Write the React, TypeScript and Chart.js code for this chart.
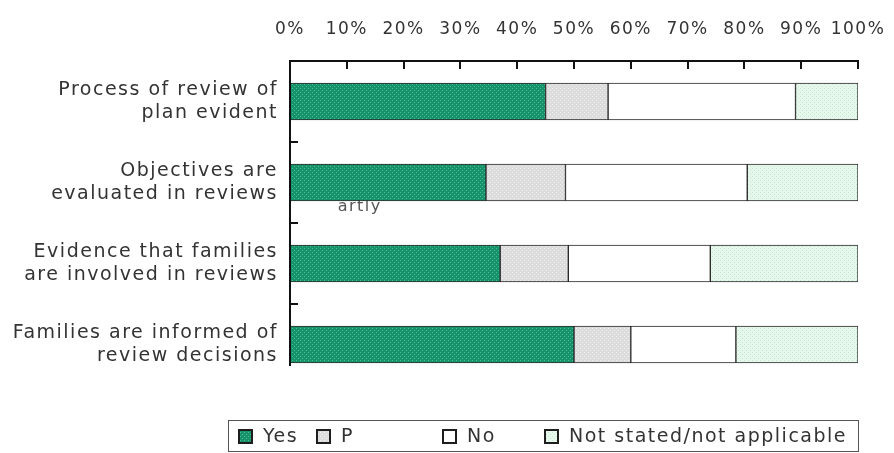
import React, { useEffect, useRef } from "react";
import { Chart, registerables } from "chart.js";

Chart.register(...registerables);

const categories: string[][] = [
  ["Process of review of", "plan evident"],
  ["Objectives are", "evaluated in reviews"],
  ["Evidence that families", "are involved in reviews"],
  ["Families are informed of", "review decisions"],
];
const seriesNames = ["Yes", "P", "No", "Not stated/not applicable"];
const yesValues = [45, 34.5, 37, 50];
const partlyValues = [11, 14, 12, 10];
const noValues = [33, 32, 25, 18.5];
const notStatedValues = [11, 19.5, 26, 21.5];
const xTickValues = [0, 10, 20, 30, 40, 50, 60, 70, 80, 90, 100];
const strayLabel = "artly";

const FONT = "'DejaVu Sans', sans-serif";
const TEXT_COLOR = "#333333";
const SPACING = "1.5px";
const BAR_THICKNESS = 37;
const LEGEND_GAPS = [18, 88, 48, 0];

function makePattern(base: string, dot: string | null): CanvasPattern | string {
  const c = document.createElement("canvas");
  c.width = 4;
  c.height = 4;
  const g = c.getContext("2d");
  if (!g) return base;
  g.fillStyle = base;
  g.fillRect(0, 0, 4, 4);
  if (dot) {
    g.fillStyle = dot;
    g.fillRect(0, 0, 1, 1);
    g.fillRect(2, 2, 1, 1);
  }
  return g.createPattern(c, "repeat") || base;
}

const decorPlugin = {
  id: "decor",
  beforeUpdate(chart: any) {
    chart.ctx.letterSpacing = SPACING;
  },
  beforeDraw(chart: any) {
    chart.ctx.letterSpacing = SPACING;
  },
  beforeDatasetsDraw(chart: any) {
    const { ctx, scales } = chart;
    const x = scales.x;
    const y = scales.y;
    ctx.save();
    ctx.font = `16px ${FONT}`;
    ctx.fillStyle = "#555";
    ctx.textAlign = "left";
    ctx.textBaseline = "alphabetic";
    ctx.fillText(strayLabel, x.getPixelForValue(8.4), y.getPixelForValue(1) + BAR_THICKNESS / 2 + 10);
    ctx.restore();
  },
  afterDatasetsDraw(chart: any) {
    const { ctx, chartArea } = chart;
    const x = chart.scales.x;
    const y = chart.scales.y;
    const top = Math.round(chartArea.top);
    const left = Math.round(chartArea.left);
    ctx.save();
    ctx.strokeStyle = "#111";
    ctx.lineWidth = 2;
    ctx.beginPath();
    ctx.moveTo(x.getPixelForValue(0) - 1, top);
    ctx.lineTo(x.getPixelForValue(100) + 1, top);
    for (const v of xTickValues) {
      const px = Math.round(x.getPixelForValue(v));
      ctx.moveTo(px, top);
      ctx.lineTo(px, top + 8);
    }
    const lastBottom = y.getPixelForValue(categories.length - 1) + BAR_THICKNESS / 2 + 3;
    ctx.moveTo(left, top);
    ctx.lineTo(left, lastBottom);
    for (let i = 0; i < categories.length - 1; i++) {
      const py = Math.round((y.getPixelForValue(i) + y.getPixelForValue(i + 1)) / 2);
      ctx.moveTo(left, py);
      ctx.lineTo(left + 8, py);
    }
    ctx.stroke();
    ctx.restore();
  },
  afterDraw(chart: any) {
    // legend built from the chart's own datasets
    const ctx = chart.ctx;
    const ca = chart.chartArea;
    const ds = chart.data.datasets;
    ctx.save();
    ctx.font = `19px ${FONT}`;
    ctx.letterSpacing = SPACING;
    ctx.textAlign = "left";
    ctx.textBaseline = "middle";
    const frameLeft = Math.round(ca.left) - 62;
    const frameTop = Math.round(ca.bottom) + 35;
    const frameH = 31;
    const cy = frameTop + 16;
    let xPos = frameLeft + 10;
    ds.forEach((d: any, i: number) => {
      const bx = Math.round(xPos);
      const by = Math.round(cy - 7.5);
      ctx.fillStyle = d.backgroundColor;
      ctx.fillRect(bx, by, 15, 15);
      ctx.lineWidth = 2;
      ctx.strokeStyle = "#1e1e1e";
      ctx.strokeRect(bx + 1, by + 1, 13, 13);
      ctx.fillStyle = TEXT_COLOR;
      ctx.fillText(d.label, bx + 25, cy + 1);
      xPos = bx + 25 + ctx.measureText(d.label).width + LEGEND_GAPS[i];
    });
    const frameRight = Math.max(Math.round(ca.right), Math.round(xPos + 10));
    ctx.lineWidth = 1;
    ctx.strokeStyle = "#555";
    ctx.strokeRect(frameLeft + 0.5, frameTop + 0.5, frameRight - frameLeft, frameH);
    ctx.restore();
  },
};

export default function App() {
  const ref = useRef<HTMLCanvasElement>(null);

  useEffect(() => {
    const canvas = ref.current;
    if (!canvas) return;

    const fills = [
      makePattern("#17936c", "#4dbb93"),
      makePattern("#dcdcdc", "#efefef"),
      "#ffffff",
      makePattern("#e6f7eb", "#c6e6d1"),
    ];
    const values = [yesValues, partlyValues, noValues, notStatedValues];

    const chart = new Chart(canvas, {
      type: "bar",
      data: {
        labels: categories,
        datasets: seriesNames.map((name, i) => ({
          label: name,
          data: values[i],
          backgroundColor: fills[i] as any,
          borderColor: "#2a2a2a",
          borderWidth: 1,
          borderSkipped: false,
          barThickness: BAR_THICKNESS,
        })),
      },
      options: {
        indexAxis: "y",
        responsive: false,
        animation: false,
        layout: { padding: { left: 0, top: 0, right: 5, bottom: 68 } },
        scales: {
          x: {
            type: "linear",
            position: "top",
            stacked: true,
            min: 0,
            max: 100,
            afterBuildTicks: (s: any) => {
              s.ticks = xTickValues.map((v) => ({ value: v }));
            },
            ticks: {
              callback: (v: any) => v + "%",
              font: { family: FONT, size: 17, lineHeight: 2.7 },
              color: TEXT_COLOR,
              padding: 8,
              maxRotation: 0,
              autoSkip: false,
            },
            grid: { display: false, drawTicks: false },
            border: { display: false },
            afterFit: (s: any) => {
              s.height = 61;
            },
          },
          y: {
            stacked: true,
            ticks: {
              font: { family: FONT, size: 19 },
              color: TEXT_COLOR,
              padding: 12,
              autoSkip: false,
            },
            grid: { display: false, drawTicks: false },
            border: { display: false },
            afterFit: (s: any) => {
              s.width = 290;
            },
          },
          yr: {
            type: "linear",
            position: "right",
            display: true,
            ticks: { display: false },
            grid: { display: false, drawTicks: false },
            border: { display: false },
            afterFit: (s: any) => {
              s.width = 31;
            },
          },
        },
        plugins: {
          legend: { display: false },
          tooltip: { enabled: false },
        },
      } as any,
      plugins: [decorPlugin as any],
    });

    return () => chart.destroy();
  }, []);

  return (
    <div style={{ position: "fixed", left: 0, top: 0, width: 894, height: 453, background: "#fff" }}>
      <canvas ref={ref} width={894} height={453} style={{ display: "block", width: 894, height: 453 }} />
    </div>
  );
}
